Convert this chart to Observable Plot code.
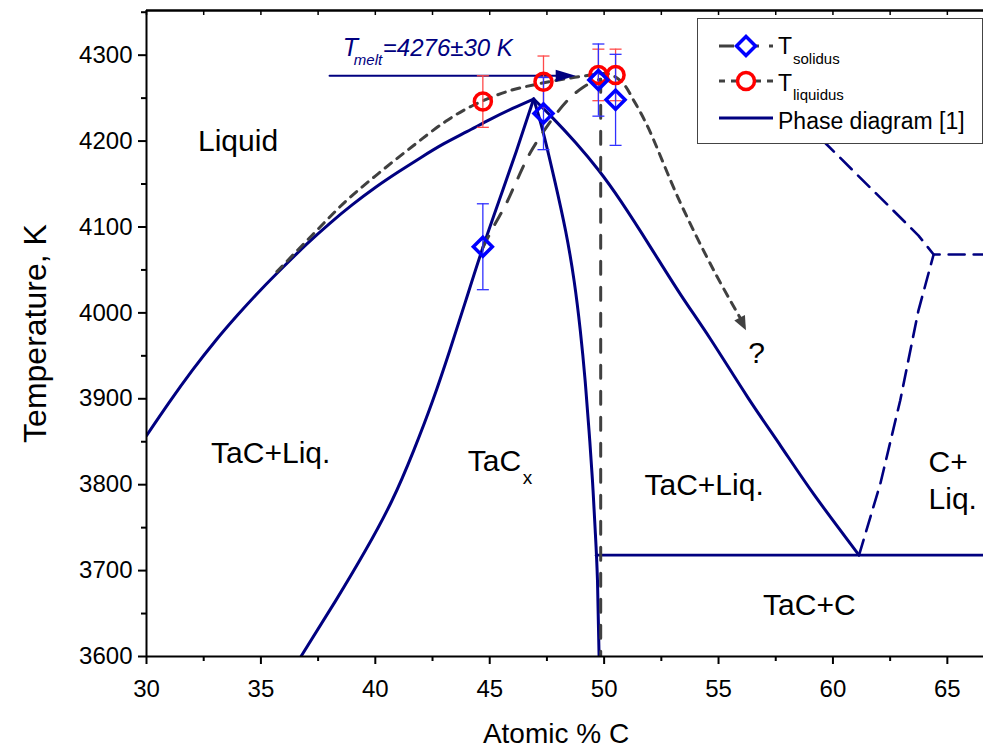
<!DOCTYPE html>
<html>
<head>
<meta charset="utf-8">
<script src="https://cdn.jsdelivr.net/npm/d3@7"></script>
<script src="https://cdn.jsdelivr.net/npm/@observablehq/plot@0.6"></script>
<style>
  html, body { margin: 0; padding: 0; background: #fff; }
  #wrap { position: relative; width: 983px; height: 751px; overflow: hidden; font-family: "Liberation Sans", Arial, sans-serif; }
  #legend { position: absolute; left: 697px; top: 18px; width: 286px; height: 126px; box-sizing: border-box;
            border: 1px solid #444; background: #fff; }
  #legend text { font-family: "Liberation Sans", Arial, sans-serif; fill: #000; }
</style>
</head>
<body>
<div id="wrap">
  <div id="chart"></div>
  <div id="legend">
    <svg width="286" height="126">
      <line x1="21" y1="27" x2="75" y2="27" stroke="#404040" stroke-width="3" stroke-dasharray="15,10"></line>
      <path d="M48,17.5 L57.5,27 L48,36.5 L38.5,27 Z" fill="#fff" stroke="#0000ff" stroke-width="3.5"></path>
      <text x="80" y="35" font-size="23">T</text>
      <text x="95" y="45" font-size="15">solidus</text>
      <line x1="21" y1="62" x2="75" y2="62" stroke="#404040" stroke-width="3" stroke-dasharray="6,6"></line>
      <circle cx="48" cy="62" r="8.5" fill="#fff" stroke="#ff0000" stroke-width="3.5"></circle>
      <text x="80" y="72" font-size="23">T</text>
      <text x="95" y="81" font-size="15">liquidus</text>
      <line x1="21" y1="99" x2="75" y2="99" stroke="#000080" stroke-width="3"></line>
      <text x="80" y="110" font-size="23">Phase diagram [1]</text>
    </svg>
  </div>
</div>
<script>
// ---- Measured melting points of TaC_x samples ----
const sampleC = [44.7, 47.35, 49.75, 50.5];          // atomic % C
const tSolidus = [4077, 4232, 4271, 4248];           // K
const tSolidusErr = [50, 42, 42, 53];
const tLiquidus = [4246, 4269, 4277, 4277];          // K
const tLiquidusErr = [30, 30, 30, 30];

// Maximum melting temperature
const tMelt = 4276;
const tMeltErr = 30;
const tMeltArrowC = [38.0, 48.32];

// ---- Ta–C phase diagram [1] ----
const liqLeftC = [30, 31, 32, 33, 34, 35, 36, 37, 38, 39, 40, 41, 42, 43, 44, 45, 46, 46.92];
const liqLeftT = [3857, 3896, 3933, 3967, 3998, 4027, 4054, 4080, 4104, 4126, 4146, 4164, 4181, 4197, 4211, 4225, 4238, 4249];

const solLeftC = [36.75, 38.27, 39.56, 40.72, 41.68, 42.51, 43.25, 43.95, 44.65, 45.40, 46.16, 46.92];
const solLeftT = [3600, 3665, 3723, 3781, 3840, 3898, 3956, 4014, 4072, 4130, 4188, 4249];

const solRightC = [46.92, 47.32, 47.84, 48.32, 48.69, 48.96, 49.17, 49.34, 49.49, 49.61, 49.71, 49.78];
const solRightT = [4249, 4212, 4154, 4095, 4037, 3979, 3921, 3863, 3805, 3747, 3688, 3600];

const liqRightC = [46.92, 47.75, 48.76, 49.76, 50.73, 52.04, 53.35, 54.66, 56.27, 57.72, 59.16, 61.14];
const liqRightT = [4249, 4227, 4198, 4166, 4130, 4076, 4021, 3969, 3902, 3845, 3789, 3718];

const eutecticC = [49.65, 66.6];
const eutecticT = [3718, 3718];

// uncertain boundaries of the C + Liq. field
const cLiqLowC = [61.14, 62.07, 62.94, 63.73, 64.4, 66.6];
const cLiqLowT = [3718, 3801, 3898, 4002, 4068, 4068];
const cLiqHighC = [58.0, 59.73, 63.74, 64.4];
const cLiqHighT = [4242, 4196, 4090, 4068];

// ---- Fitted curves through the measurements ----
const liqFitC = [35.7, 37.26, 38.71, 40.17, 41.63, 43.08, 44.3, 45.8, 47.2, 48.2, 49.2, 50.2, 50.8, 51.3, 51.9, 53.3, 54.8, 55.95];
const liqFitT = [4048, 4091, 4130, 4163, 4194, 4223, 4242, 4258, 4267, 4272, 4276, 4278, 4268, 4247, 4217, 4130, 4049, 3994];
const liqFitHead = {c: 56.06, t: 3987, angle: 63};

const solFitC = [44.7, 45.2, 45.7, 46.2, 46.7, 47.2, 47.8, 48.5, 49.1, 49.6, 49.85];
const solFitT = [4076, 4102, 4126, 4155, 4183, 4205, 4228, 4250, 4263, 4270, 4272];
const solFitDropC = [49.85, 49.85];
const solFitDropT = [4272, 3600];

// ---- Axes ----
const xDomain = [30, 66.58];
const yDomain = [3600, 4352];
const xMajor = d3.range(30, 66, 5);
const xMinor = d3.range(32.5, 66, 5);
const xTop = d3.range(30, 66.6, 2.5);
const yMajor = d3.range(3600, 4301, 100);
const yMinor = d3.range(3650, 4351, 100);

// ---- Region labels ----
const regionLabels = [
  {text: "Liquid", c: 34.0, t: 4200},
  {text: "TaC+Liq.", c: 35.43, t: 3836},
  {text: "TaC+Liq.", c: 54.37, t: 3799},
  {text: "TaC+C", c: 58.97, t: 3659},
  {text: "?", c: 56.66, t: 3953}
];
const cLiqLabel = [{text: "C+", c: 64.18, t: 3826}, {text: "Liq.", c: 64.18, t: 3783}];
const tacxLabel = {c: 44.04, t: 3827};

const zip = (xs, ys) => xs.map((x, i) => ({x, y: ys[i]}));
const samples = sampleC.map((c, i) => ({
  c, sol: tSolidus[i], solErr: tSolidusErr[i], liq: tLiquidus[i], liqErr: tLiquidusErr[i]
}));

// custom marker shapes
const radius = (size) => Math.sqrt(size / Math.PI);
const diamond = {draw(ctx, size) { const r = radius(size); ctx.moveTo(0, -r); ctx.lineTo(r, 0); ctx.lineTo(0, r); ctx.lineTo(-r, 0); ctx.closePath(); }};
const cap = {draw(ctx, size) { const r = radius(size); ctx.moveTo(-r, 0); ctx.lineTo(r, 0); }};
const arrowHead = (w) => ({draw(ctx, size) { const r = radius(size); ctx.moveTo(r, 0); ctx.lineTo(-r, -w * r); ctx.lineTo(-r, w * r); ctx.closePath(); }});

const NAVY = "#000080";
const GRAY = "#404040";
const W = 983, H = 751, ML = 146, MT = 10, MB = 95;
const plotH = H - MT - MB;

const phaseLine = (xs, ys, extra = {}) =>
  Plot.line(zip(xs, ys), {x: "x", y: "y", stroke: NAVY, strokeWidth: 3, curve: "natural", clip: true, ...extra});

const chart = Plot.plot({
  width: W, height: H,
  marginLeft: ML, marginRight: 0, marginTop: MT, marginBottom: MB,
  x: {domain: xDomain},
  y: {domain: yDomain},
  style: {fontFamily: "'Liberation Sans', Arial, sans-serif", background: "#fff", color: "#000"},
  marks: [
    // phase diagram
    phaseLine(liqLeftC, liqLeftT),
    phaseLine(solLeftC, solLeftT),
    phaseLine(solRightC, solRightT),
    phaseLine(liqRightC, liqRightT),
    phaseLine(eutecticC, eutecticT, {curve: "linear", strokeWidth: 2.6}),
    phaseLine(cLiqLowC, cLiqLowT, {curve: "linear", strokeWidth: 2.6, strokeDasharray: "16,9"}),
    phaseLine(cLiqHighC, cLiqHighT, {curve: "linear", strokeWidth: 2.6, strokeDasharray: "16,9"}),

    // fitted solidus / liquidus
    Plot.line(zip(liqFitC, liqFitT), {x: "x", y: "y", stroke: GRAY, strokeWidth: 3, strokeDasharray: "8,7", curve: "catmull-rom"}),
    Plot.dot([liqFitHead], {x: "c", y: "t", symbol: arrowHead(0.85), r: 7, fill: GRAY, stroke: "none", rotate: liqFitHead.angle}),
    Plot.line(zip(solFitC, solFitT), {x: "x", y: "y", stroke: GRAY, strokeWidth: 3, strokeDasharray: "13,13", curve: "catmull-rom"}),
    Plot.line(zip(solFitDropC, solFitDropT), {x: "x", y: "y", stroke: GRAY, strokeWidth: 3, strokeDasharray: "13,13", clip: true}),

    // T_melt arrow
    Plot.line(tMeltArrowC.map(c => ({c, t: tMelt})), {x: "c", y: "t", stroke: NAVY, strokeWidth: 2}),
    Plot.dot([{c: tMeltArrowC[1], t: tMelt}], {x: "c", y: "t", symbol: arrowHead(0.6), r: 10, fill: NAVY, stroke: "none"}),

    // error bars
    Plot.ruleX(samples, {x: "c", y1: d => d.liq - d.liqErr, y2: d => d.liq + d.liqErr, stroke: "#ff4a4a", strokeWidth: 1.3}),
    Plot.dot(samples, {x: "c", y: d => d.liq - d.liqErr, symbol: cap, r: 6, stroke: "#ff4a4a", strokeWidth: 1.3}),
    Plot.dot(samples, {x: "c", y: d => d.liq + d.liqErr, symbol: cap, r: 6, stroke: "#ff4a4a", strokeWidth: 1.3}),
    Plot.ruleX(samples, {x: "c", y1: d => d.sol - d.solErr, y2: d => d.sol + d.solErr, stroke: "#3030ff", strokeWidth: 1.3}),
    Plot.dot(samples, {x: "c", y: d => d.sol - d.solErr, symbol: cap, r: 6, stroke: "#3030ff", strokeWidth: 1.3}),
    Plot.dot(samples, {x: "c", y: d => d.sol + d.solErr, symbol: cap, r: 6, stroke: "#3030ff", strokeWidth: 1.3}),

    // measurements
    Plot.dot(samples, {x: "c", y: "liq", r: 8.5, stroke: "#ff0000", strokeWidth: 3.5, fill: "none"}),
    Plot.dot(samples, {x: "c", y: "sol", symbol: diamond, r: 9.5, stroke: "#0000ff", strokeWidth: 3.5, fill: "none"}),

    // labels
    Plot.text(regionLabels, {x: "c", y: "t", text: "text", fontSize: 30, fill: "#000"}),
    Plot.text(cLiqLabel, {x: "c", y: "t", text: "text", fontSize: 30, textAnchor: "start", fill: "#000"}),
    Plot.text([tacxLabel], {x: "c", y: "t", text: () => "TaC", fontSize: 30, textAnchor: "start", fill: "#000"}),
    Plot.text([tacxLabel], {x: "c", y: "t", text: () => "x", fontSize: 19, textAnchor: "start", dx: 55, dy: 16, fill: "#000"}),
    Plot.text([{c: tMeltArrowC[0] + 0.58, t: 4308.5}], {x: "c", y: "t", text: () => "T", fontSize: 25, fontStyle: "italic", textAnchor: "start", fill: NAVY}),
    Plot.text([{c: tMeltArrowC[0] + 0.58, t: 4308.5}], {x: "c", y: "t", text: () => "melt", fontSize: 15, fontStyle: "italic", textAnchor: "start", dx: 11, dy: 12.5, fill: NAVY}),
    Plot.text([{c: tMeltArrowC[0] + 0.58, t: 4308.5}], {x: "c", y: "t", text: () => `=${tMelt}±${tMeltErr} K`, fontSize: 24, fontStyle: "italic", textAnchor: "start", dx: 40, fill: NAVY}),

    // axes and frame
    Plot.ruleX([xDomain[0]], {stroke: "#000", strokeWidth: 2}),
    Plot.ruleY([yDomain[0]], {stroke: "#000", strokeWidth: 2}),
    Plot.ruleY([yDomain[1]], {stroke: "#000", strokeWidth: 2.5}),
    Plot.tickX(xTop, {x: d => d, insetBottom: plotH - 5, stroke: "#000", strokeWidth: 1.5}),
    Plot.axisX({ticks: xMajor, tickSize: 8, tickPadding: 15, fontSize: 24, strokeWidth: 2, label: null, tickFormat: d3.format("d")}),
    Plot.axisX({ticks: xMinor, tickSize: 5, text: null, strokeWidth: 2, label: null}),
    Plot.axisY({ticks: yMajor, tickSize: 8, tickPadding: 6, fontSize: 24, strokeWidth: 2, label: null, tickFormat: d3.format("d")}),
    Plot.axisY({ticks: yMinor, tickSize: 5, text: null, strokeWidth: 2, label: null}),
    Plot.text(["Atomic % C"], {frameAnchor: "bottom", textAnchor: "middle", dx: -9, dy: 86, fontSize: 28, fill: "#000"}),
    Plot.text(["Temperature, K"], {frameAnchor: "left", textAnchor: "middle", dx: -111, rotate: -90, fontSize: 32, fill: "#000"})
  ]
});
document.getElementById("chart").appendChild(chart);
</script>
</body>
</html>
